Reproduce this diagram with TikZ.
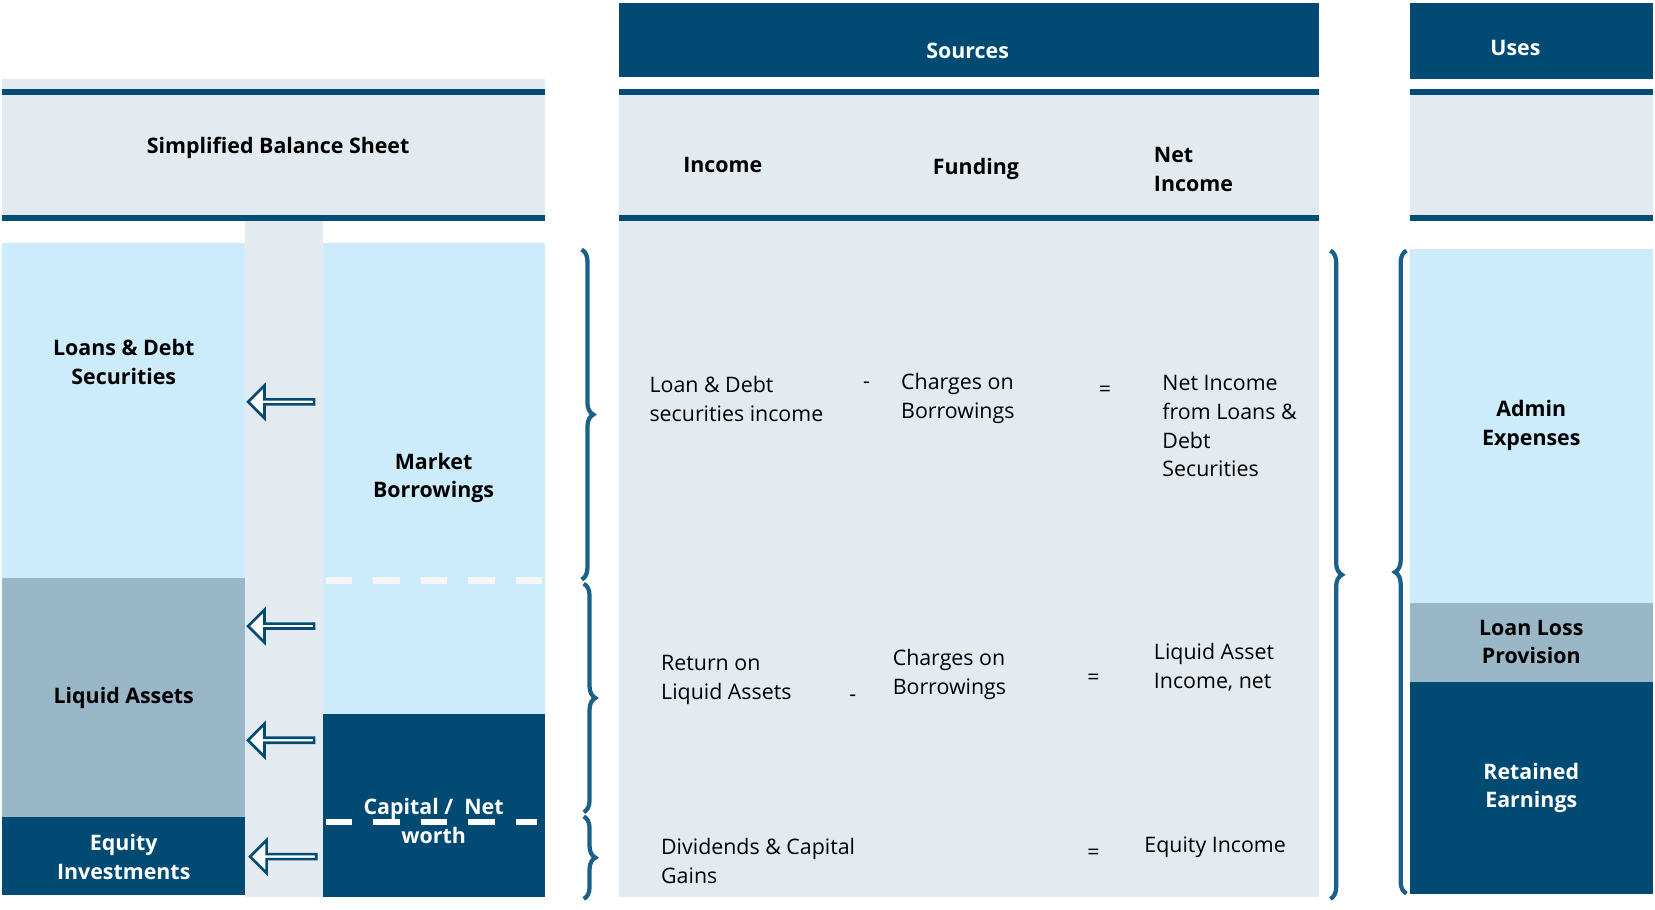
\documentclass[tikz,border=0pt]{standalone}
\usepackage{fontspec}
\setmainfont{Open Sans}
\usetikzlibrary{decorations.pathreplacing,shapes.arrows}
\definecolor{dk}{HTML}{004A74}
\definecolor{lb}{HTML}{CCECFC}
\definecolor{gb}{HTML}{9AB7C8}
\definecolor{bg}{HTML}{E4EBF0}
\definecolor{br}{HTML}{1B6088}
\begin{document}
\begin{tikzpicture}[x=0.02cm,y=-0.02cm,
  txt/.style={font=\fontsize{11.5}{15.5}\selectfont, align=left, anchor=west, text=black},
  bt/.style={font=\fontsize{11.5}{15.5}\selectfont\bfseries, align=center},
  rule/.style={dk!90!br, line width=0.12cm},
  brc/.style={br, line width=0.08cm, decorate, decoration={brace, amplitude=0.22cm}},
  arr/.style={single arrow, draw=dk, line width=0.05cm, fill=white, shape border rotate=180,
    minimum height=1.25cm, minimum width=0.62cm, single arrow head extend=0.14cm, single arrow tip angle=90, inner sep=0pt}]
\useasboundingbox (0,0) rectangle (1565,860);
\fill[white] (0,0) rectangle (1565,860);
% backgrounds
\fill[bg] (2,75) rectangle (515,206);
\fill[bg] (232,206) rectangle (305,848);
\fill[bg] (585,90) rectangle (1247,848);
\fill[bg] (1333,90) rectangle (1563,206);
\fill[dk] (585,3) rectangle (1247,73);
\fill[dk] (1333,3) rectangle (1563,75);
\foreach \a/\b in {2/515,585/1247,1333/1563}{
  \draw[rule] (\a,87) -- (\b,87);
  \draw[rule] (\a,206) -- (\b,206);}
\node[bt,text=white] (src) at (915,48) {Sources};
\node[bt,text=white] (use) at (1433,45) {Uses};
\node[bt] (sbs) at (263,140) {Simplified Balance Sheet};
\node[bt,anchor=west] (hinc) at (640,156) {Income};
\node[bt,anchor=west] (hfun) at (876,160) {Funding};
\node[bt,anchor=west,align=left] (hnet) at (1085,160) {Net\\Income};
% balance sheet
\fill[lb] (2,230) rectangle (232,547);
\fill[gb] (2,547) rectangle (232,773);
\fill[dk] (2,773) rectangle (232,846);
\fill[lb] (305,230) rectangle (515,675);
\fill[dk] (305,675) rectangle (515,848);
\draw[white!92!gray, line width=0.12cm, dash pattern=on 0.5cm off 0.4cm] (308,549) -- (515,549);
\draw[white, line width=0.12cm, dash pattern=on 0.5cm off 0.4cm] (308,777) -- (508,777);
\node[bt] (loans) at (117,342) {Loans \& Debt\\Securities};
\node[bt] (liq) at (117,660) {Liquid Assets};
\node[bt,text=white] (eq) at (117,810) {Equity\\Investments};
\node[bt] (mb) at (410,452) {Market\\Borrowings};
\node[bt,text=white] (cap) at (410,776) {Capital /~~Net\\worth};
\node[arr] (a1) at (267,380) {};
\node[arr] (a2) at (267,592) {};
\node[arr] (a3) at (267,700) {};
\node[arr] (a4) at (269,810) {};
% braces
\draw[brc] (550,236) -- (550,548);
\draw[brc] (552,552) -- (552,768);
\draw[brc] (552,772) -- (552,850);
\draw[brc] (1258,237) -- (1258,850);
\draw[brc] (1330,845) -- (1330,237);
% uses
\fill[lb] (1333,235) rectangle (1563,570);
\fill[gb] (1333,570) rectangle (1563,645);
\fill[dk] (1333,645) rectangle (1563,845);
\node[bt] (adm) at (1448,402) {Admin\\Expenses};
\node[bt] (llp) at (1448,607) {Loan Loss\\Provision};
\node[bt,text=white] (ret) at (1448,745) {Retained\\Earnings};
% sources body
\node[txt] (t1) at (608,377) {Loan \& Debt\\securities income};
\node[txt] (m1) at (810,364) {-};
\node[txt] (t2) at (846,377) {Charges on\\Borrowings};
\node[txt] (e1) at (1033,370) {=};
\node[txt] (t3) at (1093,403) {Net Income\\from Loans \&\\Debt\\Securities};
\node[txt] (t4) at (619,643) {Return on\\Liquid Assets};
\node[txt] (m2) at (797,660) {-};
\node[txt] (t5) at (838,638) {Charges on\\Borrowings};
\node[txt] (e2) at (1022,642) {=};
\node[txt] (t6) at (1085,631) {Liquid Asset\\Income, net};
\node[txt] (t7) at (619,814) {Dividends \& Capital\\Gains};
\node[txt] (e3) at (1022,808) {=};
\node[txt] (t8) at (1076,801) {Equity Income};
\end{tikzpicture}
\end{document}
